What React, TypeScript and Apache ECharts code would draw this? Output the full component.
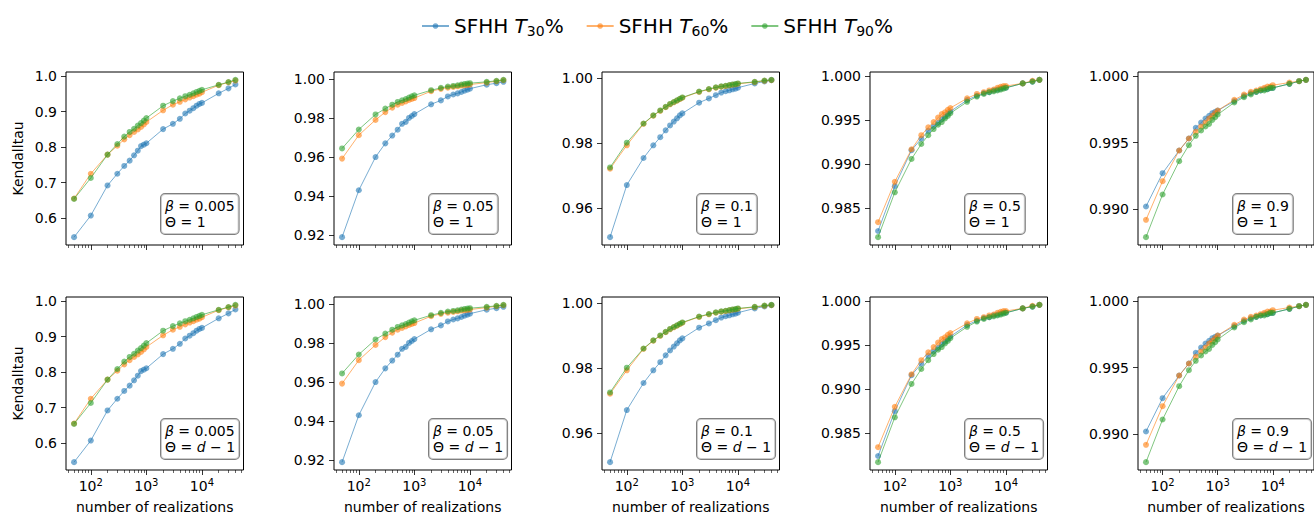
import React, { useEffect, useRef } from "react";
import * as echarts from "echarts";

// ---------------- data ----------------
const realizations = [50, 100, 200, 300, 400, 500, 600, 700, 800, 900, 1000, 2000, 3000, 4000, 5000, 6000, 7000, 8000, 9000, 10000, 20000, 30000, 40000];

const seriesNames = ["SFHH T30%", "SFHH T60%", "SFHH T90%"];
const betaLabels = ["0.005", "0.05", "0.1", "0.5", "0.9"];

// beta = 0.005
const b0005_T30 = [0.546, 0.607, 0.692, 0.725, 0.747, 0.762, 0.777, 0.79, 0.803, 0.807, 0.811, 0.851, 0.866, 0.88, 0.895, 0.903, 0.91, 0.917, 0.922, 0.925, 0.952, 0.966, 0.977];
const b0005_T60 = [0.655, 0.725, 0.779, 0.804, 0.822, 0.834, 0.843, 0.85, 0.857, 0.864, 0.871, 0.904, 0.92, 0.928, 0.935, 0.94, 0.944, 0.948, 0.951, 0.955, 0.975, 0.983, 0.988];
const b0005_T90 = [0.654, 0.713, 0.779, 0.809, 0.83, 0.843, 0.852, 0.861, 0.868, 0.875, 0.882, 0.917, 0.93, 0.938, 0.944, 0.948, 0.952, 0.956, 0.959, 0.962, 0.976, 0.984, 0.99];
// beta = 0.05
const b005_T30 = [0.919, 0.943, 0.96, 0.967, 0.971, 0.974, 0.977, 0.978, 0.98, 0.981, 0.982, 0.987, 0.989, 0.991, 0.992, 0.9926, 0.9933, 0.994, 0.9945, 0.995, 0.997, 0.9978, 0.9985];
const b005_T60 = [0.9592, 0.9712, 0.979, 0.983, 0.9853, 0.9868, 0.9877, 0.9885, 0.9892, 0.9897, 0.9902, 0.9937, 0.9949, 0.9955, 0.9959, 0.9962, 0.9966, 0.9967, 0.9969, 0.9971, 0.9981, 0.9988, 0.9993];
const b005_T90 = [0.9644, 0.9741, 0.9818, 0.9848, 0.9868, 0.9882, 0.989, 0.9897, 0.9904, 0.9911, 0.9916, 0.9942, 0.9954, 0.9961, 0.9964, 0.9967, 0.9971, 0.9974, 0.9976, 0.9978, 0.9985, 0.999, 0.9995];
// beta = 0.1
const b01_T30 = [0.9512, 0.9672, 0.9755, 0.9794, 0.9819, 0.984, 0.9855, 0.9867, 0.9877, 0.9886, 0.9892, 0.9925, 0.9938, 0.9948, 0.9956, 0.996, 0.9963, 0.9966, 0.9968, 0.9971, 0.9984, 0.999, 0.9994];
const b01_T60 = [0.9722, 0.9794, 0.986, 0.9885, 0.99, 0.9911, 0.992, 0.9926, 0.9931, 0.9936, 0.994, 0.9958, 0.9966, 0.9971, 0.9974, 0.9976, 0.9978, 0.998, 0.9981, 0.9983, 0.9988, 0.9992, 0.9994];
const b01_T90 = [0.9726, 0.9802, 0.9861, 0.9886, 0.9901, 0.9912, 0.9921, 0.9927, 0.9932, 0.9937, 0.9941, 0.9959, 0.9967, 0.9972, 0.9975, 0.9977, 0.9979, 0.9981, 0.9982, 0.9984, 0.9989, 0.9993, 0.9995];
// beta = 0.5
const b05_T30 = [0.9824, 0.9875, 0.9916, 0.9929, 0.9938, 0.9943, 0.9947, 0.9951, 0.9954, 0.9957, 0.996, 0.9973, 0.9978, 0.9981, 0.9982, 0.9984, 0.9985, 0.9986, 0.9987, 0.9987, 0.9992, 0.9994, 0.9996];
const b05_T60 = [0.9834, 0.988, 0.9917, 0.9933, 0.9942, 0.9948, 0.9953, 0.9957, 0.9959, 0.9962, 0.9964, 0.9975, 0.998, 0.9982, 0.9984, 0.9985, 0.9987, 0.9988, 0.9989, 0.9989, 0.9992, 0.9995, 0.9996];
const b05_T90 = [0.9817, 0.9868, 0.9906, 0.9923, 0.9933, 0.994, 0.9945, 0.9948, 0.9952, 0.9955, 0.9958, 0.9971, 0.9977, 0.998, 0.9982, 0.9983, 0.9984, 0.9985, 0.9986, 0.9987, 0.9992, 0.9994, 0.9996];
// beta = 0.9
const b09_T30 = [0.9902, 0.9927, 0.9944, 0.9953, 0.9961, 0.9965, 0.9968, 0.997, 0.9972, 0.9973, 0.9974, 0.9981, 0.9985, 0.9987, 0.9988, 0.9989, 0.999, 0.999, 0.9991, 0.9991, 0.9994, 0.9996, 0.9997];
const b09_T60 = [0.9892, 0.9921, 0.9944, 0.9953, 0.9958, 0.9962, 0.9965, 0.9968, 0.997, 0.9972, 0.9974, 0.9982, 0.9986, 0.9988, 0.9989, 0.999, 0.9991, 0.9992, 0.9992, 0.9993, 0.9995, 0.9996, 0.9997];
const b09_T90 = [0.9879, 0.9911, 0.9936, 0.9948, 0.9955, 0.9959, 0.9962, 0.9964, 0.9967, 0.9969, 0.9971, 0.998, 0.9984, 0.9986, 0.9988, 0.9989, 0.9989, 0.999, 0.9991, 0.9991, 0.9994, 0.9996, 0.9997];

const panelSeries = [
  [b0005_T30, b0005_T60, b0005_T90],
  [b005_T30, b005_T60, b005_T90],
  [b01_T30, b01_T60, b01_T90],
  [b05_T30, b05_T60, b05_T90],
  [b09_T30, b09_T60, b09_T90],
];

// y tick labels per column
const yTicks = [
  [0.6, 0.7, 0.8, 0.9, 1.0],
  [0.92, 0.94, 0.96, 0.98, 1.0],
  [0.96, 0.98, 1.0],
  [0.985, 0.99, 0.995, 1.0],
  [0.99, 0.995, 1.0],
];
const yDecimals = [1, 2, 2, 3, 3];

const xMajorTicks = [100, 1000, 10000];
const xMinorTicks = [40, 50, 60, 70, 80, 90, 200, 300, 400, 500, 600, 700, 800, 900, 2000, 3000, 4000, 5000, 6000, 7000, 8000, 9000, 20000, 30000, 40000, 50000];

// ---------------- style / layout ----------------
const COLORS = ["#1f77b4", "#ff7f0e", "#2ca02c"];
const FONT = "DejaVu Sans";
const colLefts = [66, 334, 602, 870, 1138];
const rowTops = [72, 297];
const PW = 177.5;
const PH = 173;

const App: React.FC = () => {
  const ref = useRef<HTMLDivElement>(null);

  useEffect(() => {
    if (!ref.current) return;
    const chart = echarts.init(ref.current, undefined, { renderer: "svg" });

    const lxMin = Math.log10(Math.min(...realizations));
    const lxMax = Math.log10(Math.max(...realizations));
    const span = lxMax - lxMin;
    const xMin = Math.pow(10, lxMin - 0.05 * span);
    const xMax = Math.pow(10, lxMax + 0.05 * span);

    const grids: any[] = [];
    const xAxes: any[] = [];
    const yAxes: any[] = [];
    const series: any[] = [];
    const graphics: any[] = [];

    rowTops.forEach((top, r) => {
      colLefts.forEach((left, c) => {
        const gi = grids.length;
        grids.push({
          left,
          top,
          width: PW,
          height: PH,
          show: true,
          borderColor: "#000",
          borderWidth: 1,
          backgroundColor: "transparent",
        });
        const isBottom = r === rowTops.length - 1;
        // main x axis
        xAxes.push({
          type: "log",
          logBase: 10,
          gridIndex: gi,
          min: xMin,
          max: xMax,
          position: "bottom",
          axisLine: { show: false },
          splitLine: { show: false },
          axisTick: {
            show: true,
            customValues: xMajorTicks,
            length: 5,
            lineStyle: { color: "#000", width: 0.8 },
          },
          axisLabel: {
            show: isBottom,
            customValues: xMajorTicks,
            margin: 7,
            color: "#000",
            fontFamily: FONT,
            formatter: (v: number) => `{b|10}{s|${Math.round(Math.log10(v))}}`,
            rich: {
              b: { fontSize: 14, fontFamily: FONT, color: "#000", lineHeight: 17 },
              s: { fontSize: 10, fontFamily: FONT, color: "#000", lineHeight: 10, verticalAlign: "top" },
            },
          },
          name: isBottom ? "number of realizations" : "",
          nameLocation: "middle",
          nameGap: 30,
          nameTextStyle: { fontSize: 14, fontFamily: FONT, color: "#000" },
        });
        // minor tick x axis
        xAxes.push({
          type: "log",
          logBase: 10,
          gridIndex: gi,
          min: xMin,
          max: xMax,
          position: "bottom",
          axisLine: { show: false },
          splitLine: { show: false },
          axisLabel: { show: false },
          axisTick: {
            show: true,
            customValues: xMinorTicks,
            length: 3,
            lineStyle: { color: "#000", width: 0.6 },
          },
        });
        yAxes.push({
          type: "value",
          gridIndex: gi,
          scale: true,
          min: (v: any) => v.min - 0.05 * (v.max - v.min),
          max: (v: any) => v.max + 0.05 * (v.max - v.min),
          axisLine: { show: false },
          splitLine: { show: false },
          axisTick: {
            show: true,
            customValues: yTicks[c],
            length: 5,
            lineStyle: { color: "#000", width: 0.8 },
          },
          axisLabel: {
            customValues: yTicks[c],
            margin: 9,
            color: "#000",
            fontSize: 14,
            fontFamily: FONT,
            formatter: (v: number) => v.toFixed(yDecimals[c]),
          },
          name: c === 0 ? "Kendalltau" : "",
          nameLocation: "middle",
          nameRotate: 90,
          nameGap: 41,
          nameTextStyle: { fontSize: 14, fontFamily: FONT, color: "#000" },
        });
        panelSeries[c].forEach((vals, s) => {
          series.push({
            type: "line",
            name: seriesNames[s],
            xAxisIndex: gi * 2,
            yAxisIndex: gi,
            data: realizations.map((x, j) => [x, vals[j]]),
            symbol: "circle",
            symbolSize: 6,
            color: COLORS[s],
            lineStyle: { width: 1, opacity: 0.6, color: COLORS[s] },
            itemStyle: { opacity: 0.6, color: COLORS[s] },
            emphasis: { disabled: true },
            z: 2 + s,
          });
        });
        const thetaText = r === 0 ? "Θ = 1" : "Θ = {i|d} − 1";
        graphics.push({
          type: "text",
          x: left + 95,
          y: top + PH - 11,
          z: 100,
          style: {
            text: `{i|β} = ${betaLabels[c]}\n${thetaText}`,
            fontSize: 14,
            fontFamily: FONT,
            fill: "#000",
            lineHeight: 16,
            align: "left",
            verticalAlign: "bottom",
            padding: [4, 4, 4, 4],
            backgroundColor: "rgba(255,255,255,0.6)",
            borderColor: "rgba(0,0,0,0.5)",
            borderWidth: 1,
            borderRadius: 4,
            rich: {
              i: { fontStyle: "italic", fontSize: 14, fontFamily: FONT, fill: "#000", lineHeight: 16 },
            },
          },
        });
      });
    });

    chart.setOption({
      animation: false,
      backgroundColor: "#fff",
      textStyle: { fontFamily: FONT },
      legend: {
        data: seriesNames,
        top: 9,
        left: "center",
        itemWidth: 27,
        itemHeight: 7,
        itemGap: 22,
        textStyle: {
          fontSize: 20,
          fontFamily: FONT,
          color: "#000",
          lineHeight: 24,
          rich: {
            i: { fontStyle: "italic", fontSize: 20, fontFamily: FONT, color: "#000", lineHeight: 24 },
            s: { fontSize: 14, fontFamily: FONT, color: "#000", lineHeight: 8, verticalAlign: "bottom" },
          },
        },
        formatter: (name: string) => {
          const m = name.match(/^(.*)T(\d+)%$/);
          if (!m) return name;
          return `${m[1]}{i|T}{s|${m[2]}}%`;
        },
      },
      grid: grids,
      xAxis: xAxes,
      yAxis: yAxes,
      series,
      graphic: graphics,
    });

    return () => chart.dispose();
  }, []);

  return (
    <div
      ref={ref}
      style={{ position: "fixed", left: 0, top: 0, width: 1314, height: 516, background: "#fff" }}
    />
  );
};

export default App;
